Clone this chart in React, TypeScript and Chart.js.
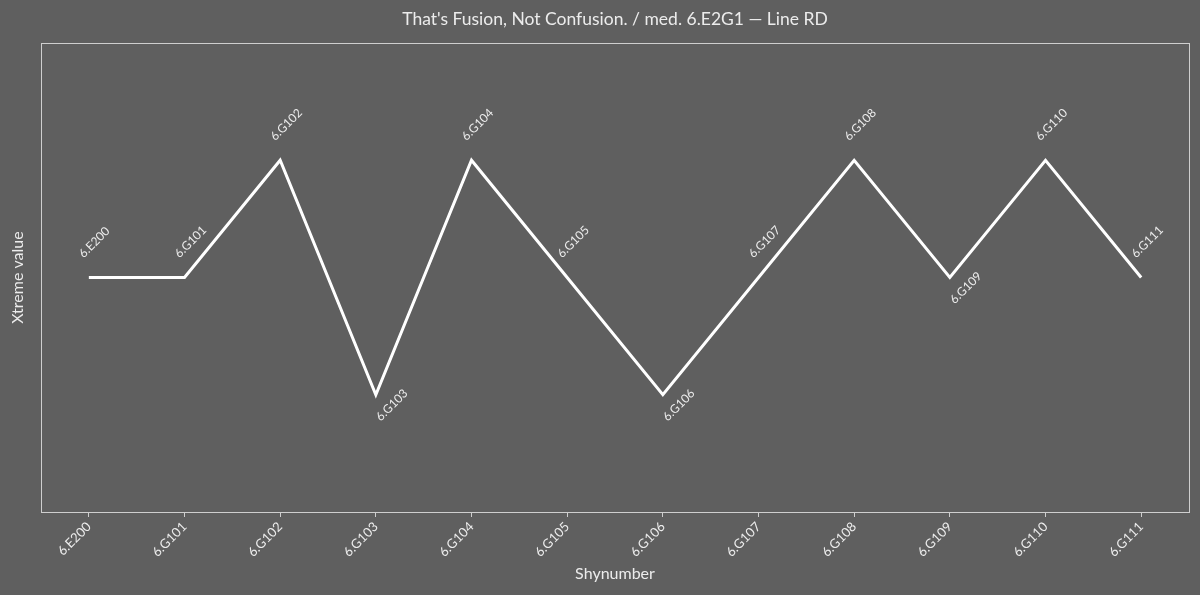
import React, { useEffect, useRef } from "react";
import { Chart, registerables } from "chart.js";

Chart.register(...registerables);

const categories = [
  "6.E200", "6.G101", "6.G102", "6.G103", "6.G104", "6.G105",
  "6.G106", "6.G107", "6.G108", "6.G109", "6.G110", "6.G111",
];
const values = [0, 0, 1, -1, 1, 0, -1, 0, 1, 0, 1, 0];
const yMin = -2;
const yMax = 2;
const titleText = "That's Fusion, Not Confusion. / med. 6.E2G1 \u2014 Line RD";
const xTitle = "Shynumber";
const yTitle = "Xtreme value";

const FONT = "Lato, 'Noto Sans', sans-serif";
const BG = "#5f5f5f";
const TEXT = "#ececec";
const FRAME = "#cfcfcf";

const bgPlugin = {
  id: "bg",
  beforeDraw(chart: any) {
    const { ctx, width, height } = chart;
    ctx.save();
    ctx.fillStyle = BG;
    ctx.fillRect(0, 0, width, height);
    ctx.restore();
  },
};

const framePlugin = {
  id: "frame",
  afterDraw(chart: any) {
    const { ctx, chartArea } = chart;
    ctx.save();
    ctx.strokeStyle = FRAME;
    ctx.lineWidth = 1;
    ctx.strokeRect(
      Math.round(chartArea.left) + 0.5,
      Math.round(chartArea.top) + 0.5,
      Math.round(chartArea.right - chartArea.left),
      Math.round(chartArea.bottom - chartArea.top)
    );
    // title centred over the plot area
    ctx.font = `17.5px ${FONT}`;
    ctx.fillStyle = TEXT;
    ctx.textAlign = "center";
    ctx.textBaseline = "middle";
    ctx.fillText(titleText, (chartArea.left + chartArea.right) / 2, 19);
    ctx.restore();
  },
};

const pointLabelPlugin = {
  id: "pointLabels",
  afterDatasetsDraw(chart: any) {
    const { ctx } = chart;
    const meta = chart.getDatasetMeta(0);
    const data = chart.data.datasets[0].data as number[];
    ctx.save();
    ctx.font = `12px ${FONT}`;
    ctx.fillStyle = TEXT;
    ctx.textBaseline = "alphabetic";
    ctx.textAlign = "left";
    meta.data.forEach((pt: any, i: number) => {
      const v = data[i];
      const prev = i > 0 ? data[i - 1] : -Infinity;
      const next = i < data.length - 1 ? data[i + 1] : -Infinity;
      const below = v < prev && v < next;
      const ox = below ? pt.x + 5 : pt.x - 5;
      const oy = below ? pt.y + 27 : pt.y - 19;
      ctx.save();
      ctx.translate(ox, oy);
      ctx.rotate(-Math.PI / 4);
      ctx.fillText(categories[i], 0, 0);
      ctx.restore();
    });
    ctx.restore();
  },
};

export default function App() {
  const ref = useRef<HTMLCanvasElement | null>(null);

  useEffect(() => {
    document.body.style.margin = "0";
    document.body.style.background = BG;
    if (!ref.current) return;
    const chart = new Chart(ref.current, {
      type: "line",
      data: {
        labels: categories,
        datasets: [
          {
            data: values,
            borderColor: "#ffffff",
            borderWidth: 3,
            pointRadius: 0,
            tension: 0,
            fill: false,
          },
        ],
      },
      options: {
        animation: false,
        responsive: false,
        maintainAspectRatio: false,
        layout: { padding: { left: 0, right: 11, top: 43, bottom: 0 } },
        plugins: {
          legend: { display: false },
          tooltip: { enabled: false },
          title: { display: false },
        },
        scales: {
          x: {
            offset: true,
            grid: {
              display: true,
              drawOnChartArea: false,
              drawTicks: true,
              tickLength: 5,
              color: FRAME,
            },
            border: { display: true, color: FRAME },
            ticks: {
              color: TEXT,
              font: { family: FONT, size: 13 },
              minRotation: 45,
              maxRotation: 45,
              padding: 2,
            },
            title: {
              display: true,
              text: xTitle,
              color: TEXT,
              font: { family: FONT, size: 16 },
              padding: { top: 0, bottom: 12 },
            },
            afterFit(scale: any) {
              scale.height = 83;
            },
          },
          y: {
            min: yMin,
            max: yMax,
            grid: { display: false },
            border: { display: true, color: FRAME },
            ticks: { display: false },
            title: {
              display: true,
              text: yTitle,
              color: TEXT,
              font: { family: FONT, size: 16 },
              padding: { top: 8, bottom: 0 },
            },
            afterFit(scale: any) {
              scale.width = 41;
            },
          },
        },
      },
      plugins: [bgPlugin, framePlugin, pointLabelPlugin],
    });
    return () => chart.destroy();
  }, []);

  return (
    <div style={{ width: 1200, height: 595 }}>
      <canvas ref={ref} width={1200} height={595} style={{ display: "block" }} />
    </div>
  );
}
